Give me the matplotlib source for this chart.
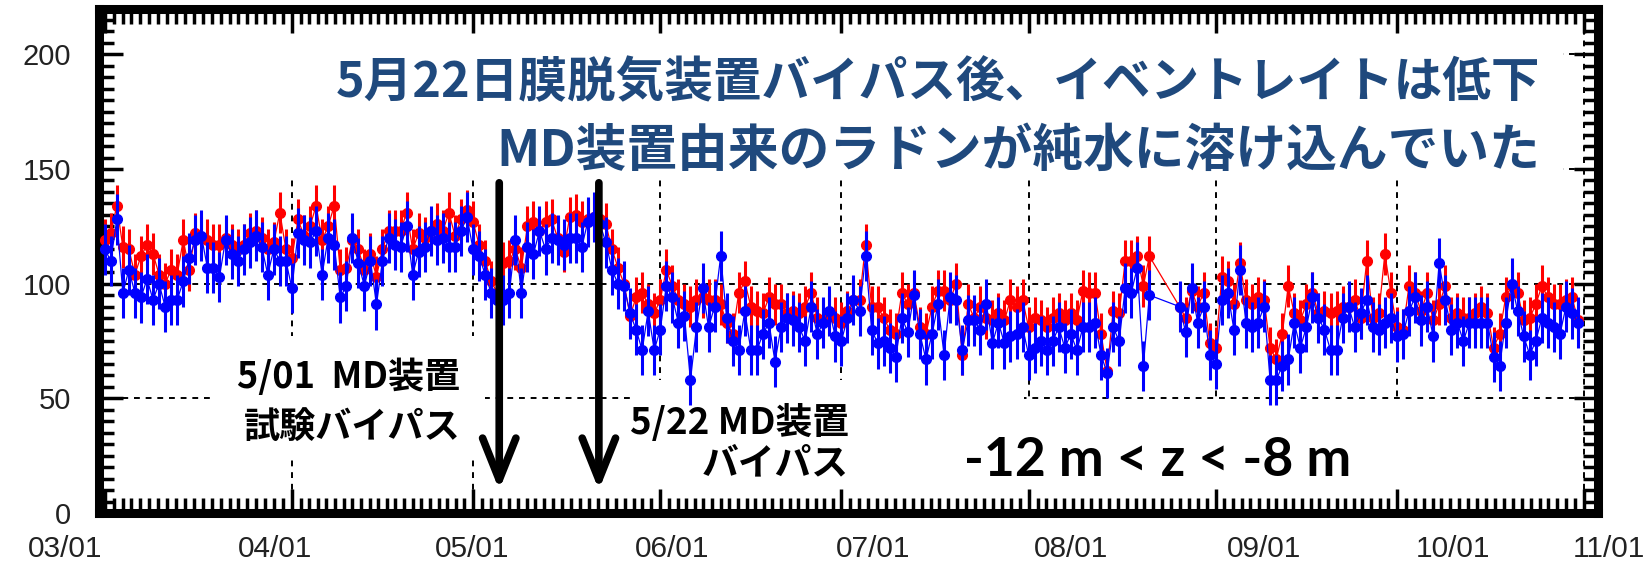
import numpy as np
import pandas as pd
import matplotlib
matplotlib.use("Agg")
import matplotlib.pyplot as plt
import matplotlib.dates as mdates
from matplotlib.patches import Rectangle

# daily rates from 03/01 (NaN = no data)
nan = np.nan
red = [119, 122, 134, 116, 115, 104, 112, 117, 113, 104,
       100, 106, 104, 119, 106, 122, 120, 119, 117, 117,
       120, 117, 115, 117, 122, 123, 120, 115, 118, 131,
       115, 111, 128, 121, 125, 134, 119, 125, 134, 106,
       107, 119, 115, 106, 113, 103, 115, 123, 123, 123,
       131, 115, 122, 120, 123, 126, 123, 131, 121, 128,
       132, 127, 117, 110, 101, 96, 109, 110, 115, 107,
       125, 127, 123, 127, 128, 120, 114, 129, 130, 127,
       128, 129, 128, 126, 115, 107, 100, 86, 94, 96,
       91, 87, 93, 106, 99, 93, 91, 90, 93, 94,
       93, 93, 91, 83, 78, 96, 101, 90, 88, 87,
       94, 91, 91, 87, 88, 87, 90, 96, 85, 84,
       87, 85, 83, 88, 93, 93, 117, 90, 90, 85,
       80, 78, 96, 91, 96, 81, 78, 90, 97, 97,
       93, 100, 69, 91, 85, 90, 85, 84, 87, 84,
       93, 90, 93, 81, 85, 84, 81, 85, 87, 84,
       87, 84, 97, 96, 96, 78, 62, 88, 87, 110,
       110, 112, 99, 112, nan, nan, nan, nan, 90, 85,
       97, 90, 96, 74, 72, 103, 101, 91, 109, 93,
       91, 94, 93, 72, 67, 78, 99, 87, 84, 91,
       96, 87, 88, 87, 88, 90, 90, 93, 85, 110,
       85, 87, 113, 96, 81, 80, 99, 96, 88, 96,
       84, 91, 99, 85, 87, 85, 85, 87, 90, 87,
       72, 78, 94, 99, 96, 84, 85, 91, 99, 94,
       91, 91, 93, 94, 84]
blue = [115, 110, 128, 96, 106, 96, 94, 102, 93, 100,
        90, 93, 93, 101, 111, 119, 121, 107, 107, 103,
        119, 113, 110, 115, 118, 121, 116, 104, 115, 110,
        110, 98, 122, 119, 118, 123, 104, 120, 117, 94,
        99, 120, 109, 99, 110, 91, 110, 120, 117, 116,
        125, 104, 114, 116, 123, 119, 120, 116, 116, 123,
        129, 115, 112, 104, 96, 93, 93, 96, 119, 96,
        116, 113, 123, 115, 120, 119, 117, 120, 120, 116,
        127, 129, 126, 118, 106, 100, 99, 87, 80, 71,
        88, 71, 80, 99, 94, 83, 86, 58, 81, 98,
        81, 90, 112, 85, 75, 71, 88, 71, 71, 78,
        83, 66, 81, 85, 84, 81, 75, 90, 78, 83,
        88, 77, 75, 85, 93, 88, 112, 80, 74, 75,
        72, 68, 85, 79, 95, 78, 67, 78, 91, 69,
        94, 93, 71, 84, 84, 80, 91, 74, 83, 74,
        77, 78, 81, 69, 72, 75, 71, 75, 81, 72,
        78, 71, 81, 81, 83, 69, 61, 81, 75, 98,
        96, 107, 64, 95, nan, nan, nan, nan, 90, 79,
        98, 83, 90, 69, 65, 93, 96, 80, 106, 83,
        81, 83, 90, 58, 58, 64, 67, 83, 72, 81,
        94, 85, 80, 71, 71, 85, 90, 81, 87, 93,
        81, 80, 83, 85, 77, 78, 88, 94, 84, 90,
        77, 109, 93, 80, 83, 75, 83, 83, 83, 83,
        68, 64, 83, 100, 88, 77, 69, 75, 85, 83,
        81, 78, 90, 87, 83]
red_err = 9
blue_err = 11

month_starts = ["2015-03-01", "2015-04-01", "2015-05-01", "2015-06-01", "2015-07-01",
                "2015-08-01", "2015-09-01", "2015-10-01", "2015-11-01"]
month_labels = ["03/01", "04/01", "05/01", "06/01", "07/01", "08/01", "09/01", "10/01", "11/01"]
y_ticks = [0, 50, 100, 150, 200]
arrow_dates = ["2015-05-05 08:00", "2015-05-21 20:00"]

title1 = "5月22日膜脱気装置バイパス後、イベントレイトは低下"
title2 = "MD装置由来のラドンが純水に溶け込んでいた"

W, H = 1647, 573
fig = plt.figure(figsize=(W / 100, H / 100), dpi=100)
ax = fig.add_axes([99 / W, 1 - 513 / H, (1598 - 99) / W, (513 - 8.5) / H])

days = mdates.date2num(pd.date_range("2015-03-01", periods=len(red)))
red = np.array(red, float)
blue = np.array(blue, float)
ok_r = ~np.isnan(red)
ok_b = ~np.isnan(blue)

d0 = mdates.date2num(pd.Timestamp(month_starts[0]))
ax.set_xlim(d0 - 0.95, d0 + 247.3)
ax.set_ylim(0, 220)

# dashed grid (drawn under the white boxes)
for m in month_starts[1:]:
    ax.axvline(mdates.date2num(pd.Timestamp(m)), color="black", ls=(0, (3, 3)), lw=1.4, zorder=0.5)
for yv in y_ticks[1:]:
    ax.axhline(yv, color="black", ls=(0, (3, 3)), lw=1.4, zorder=0.5)

# white boxes of the slide that hide the grid
def box(x0, y0, x1, y1):
    ax.add_patch(Rectangle((x0 / W, 1 - y1 / H), (x1 - x0) / W, (y1 - y0) / H,
                           transform=fig.transFigure, fc="white", ec="none", zorder=1))

box(118, 12, 1563, 178)
box(215, 336, 485, 458)
box(630, 380, 1024, 505)
box(1024, 402, 1440, 505)

ax.errorbar(days[ok_r], red[ok_r], yerr=red_err, fmt="o-", color="#ff0000", ms=7,
            lw=0.9, elinewidth=2.2, capsize=0, zorder=3)
ax.errorbar(days[ok_b], blue[ok_b], yerr=blue_err, fmt="o-", color="#0000ff", ms=7,
            lw=0.9, elinewidth=2.2, capsize=0, zorder=3.1)

# axes frame / ticks
for s in ax.spines.values():
    s.set_linewidth(6.5)
month_num = [mdates.date2num(pd.Timestamp(m)) for m in month_starts]
minor_x = np.concatenate([np.linspace(a, b, 22)[1:-1] for a, b in zip(month_num[:-1], month_num[1:])])
ax.set_xticks(month_num)
ax.set_xticks(minor_x, minor=True)
ax.set_xticklabels([])
ax.set_yticks(y_ticks)
ax.set_yticks(np.arange(0, 221, 5), minor=True)
ax.tick_params(which="both", direction="in", top=True, right=True, width=2.5, color="black")
ax.tick_params(which="major", length=17)
ax.tick_params(which="minor", length=11)
ax.tick_params(axis="y", pad=20, labelsize=21, labelcolor="#222222")
for t in ax.get_yticklabels():
    t.set_family(["Liberation Sans", "DejaVu Sans"])

label_x = [65, 275, 472, 672, 873, 1071, 1264, 1453, 1609]
for lx, lab in zip(label_x, month_labels):
    fig.text(lx / W, 1 - 549 / H, lab, ha="center", va="center", fontsize=21.5, color="#222222",
             family=["Liberation Sans", "DejaVu Sans"])

# arrows
for a in arrow_dates:
    xa = mdates.date2num(pd.Timestamp(a))
    ax.annotate("", xy=(xa, 10), xytext=(xa, 144),
                arrowprops=dict(arrowstyle="->,head_length=30,head_width=12", mutation_scale=1,
                                lw=5.5, color="black", shrinkA=0, shrinkB=0), zorder=5)

jp = ["Noto Sans CJK JP", "DejaVu Sans"]
fig.text(1540 / W, 1 - 83 / H, title1, ha="right", va="center", fontsize=35,
         fontweight="bold", color="#1F497D", family=jp)
fig.text(1540 / W, 1 - 151 / H, title2, ha="right", va="center", fontsize=36.5,
         fontweight="bold", color="#1F497D", family=jp)
fig.text(349 / W, 1 - 377 / H, "5/01  MD装置", ha="center", va="center", fontsize=26,
         fontweight="bold", color="black", family=jp)
fig.text(352 / W, 1 - 427 / H, "試験バイパス", ha="center", va="center", fontsize=26,
         fontweight="bold", color="black", family=jp)
fig.text(849 / W, 1 - 423 / H, "5/22 MD装置", ha="right", va="center", fontsize=26.5,
         fontweight="bold", color="black", family=jp)
fig.text(849 / W, 1 - 464 / H, "バイパス", ha="right", va="center", fontsize=26.5,
         fontweight="bold", color="black", family=jp)
fig.text(964 / W, 1 - 461 / H, "-12 m < z < -8 m", ha="left", va="center", fontsize=38.5,
         fontweight="bold", color="black", family=["Lato", "DejaVu Sans"])

fig.savefig("out.png", dpi=100)
